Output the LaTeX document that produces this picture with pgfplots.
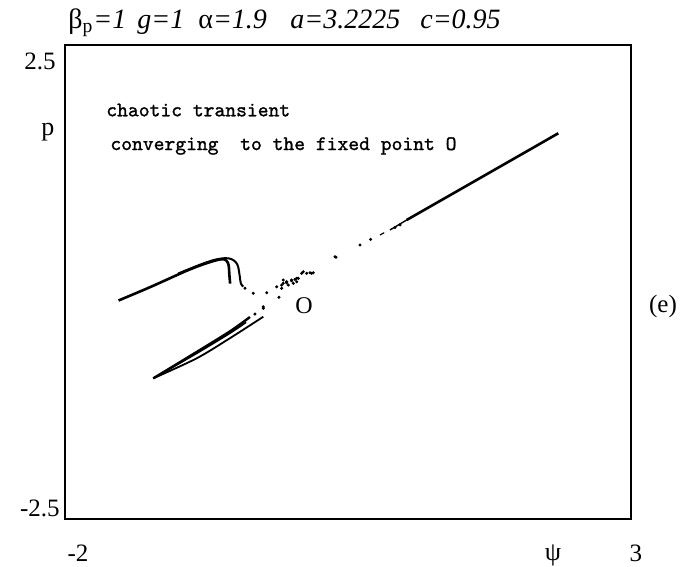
\documentclass[border=0pt]{standalone}
\usepackage{pgfplots}
\pgfplotsset{compat=1.18}
\usepackage{fontspec}
\setmainfont{Liberation Serif}
\newfontfamily\courfont[FakeBold=1.2]{Latin Modern Mono}
\begin{document}
\begin{tikzpicture}
\begin{axis}[scale only axis, width=283pt, height=237pt,
  xmin=-2, xmax=3, ymin=-2.5, ymax=2.5,
  xtick=\empty, ytick=\empty, clip=false,
  axis line style={line width=0.7pt}]
% invisible frame = full picture extent
\path (axis cs:-2.574,-3.006) rectangle (axis cs:3.442,2.975);
% upper-left curve (inner hook)
\addplot[black, line width=1.3pt, smooth, tension=0.5] coordinates {
(-1.527,-0.195) (-1.246,-0.053) (-0.950,0.106) (-0.801,0.177) (-0.683,0.223)
(-0.620,0.240) (-0.585,0.236) (-0.562,0.205) (-0.552,0.160) (-0.548,0.080) (-0.541,-0.017)};
% upper-left curve (outer hook)
\addplot[black, line width=1.0pt, smooth, tension=0.5] coordinates {
(-1.000,0.090) (-0.800,0.186) (-0.680,0.234) (-0.585,0.252) (-0.530,0.242)
(-0.490,0.208) (-0.470,0.160) (-0.456,0.060) (-0.446,-0.017) (-0.425,-0.048)};
% lower tongue strands
\addplot[black, line width=1.2pt, smooth] coordinates {
(-1.220,-1.016) (-0.837,-0.738) (-0.542,-0.520) (-0.366,-0.369)};
\addplot[black, line width=0.8pt, smooth] coordinates {
(-1.220,-1.016) (-0.840,-0.755) (-0.540,-0.538) (-0.400,-0.425)};
\addplot[black, line width=0.9pt, smooth] coordinates {
(-1.220,-1.016) (-0.837,-0.805) (-0.542,-0.592) (-0.248,-0.366)};
% right straight segment
\addplot[black, line width=1.3pt] coordinates {(1.018,0.654) (1.695,1.116) (2.358,1.569)};
\addplot[black, line width=0.7pt] coordinates {(0.871,0.549) (1.018,0.654)};
\addplot[black, line width=0.6pt] coordinates {(0.783,0.496) (0.820,0.520)};
% scattered transient points
\addplot[only marks, mark=*, mark size=0.55pt, black] coordinates {
(-0.410,-0.066) (-0.337,-0.119) (-0.218,-0.113) (-0.110,-0.161) (-0.248,-0.277)
(-0.322,-0.338) (-0.248,-0.262) (-0.130,-0.050) (-0.086,-0.066) (-0.072,-0.014)
(-0.042,0.003) (0.002,0.021) (0.047,0.039) (0.105,0.109) (0.193,0.098)
(0.385,0.267) (0.606,0.390) (0.394,0.261) (0.164,0.098) (0.135,0.092)
(-0.086,-0.032) (-0.042,-0.008) (0.002,0.013) (0.032,0.028) (0.061,0.039)
(0.091,0.092) (0.179,0.092) (-0.072,0.021) (-0.027,-0.032) (0.017,-0.014)
(0.047,0.003) (0.915,0.575) (0.960,0.603) (0.700,0.450)};
% texts
\node[anchor=west, inner sep=0pt, font=\courfont\fontsize{10.3}{12}\selectfont] at (axis cs:-1.638,1.814) {chaotic transient};
\node[anchor=west, inner sep=0pt, font=\courfont\fontsize{10.3}{12}\selectfont] at (axis cs:-1.602,1.435) {converging\ \ to the fixed point O};
\node[inner sep=0pt, font=\fontsize{12}{14}\selectfont] at (axis cs:0.111,-0.253) {O};
\node[inner sep=0pt, font=\fontsize{12.5}{14}\selectfont] at (axis cs:3.283,-0.253) {(e)};
\node[inner sep=0pt, font=\fontsize{13}{14}\selectfont] at (axis cs:-2.150,1.582) {p};
\node[inner sep=0pt, font=\fontsize{12.5}{14}\selectfont] at (axis cs:-2.221,2.331) {2.5};
\node[inner sep=0pt, font=\fontsize{12.5}{14}\selectfont] at (axis cs:-2.221,-2.384) {-2.5};
\node[inner sep=0pt, font=\fontsize{12.5}{14}\selectfont] at (axis cs:-1.885,-2.859) {-2};
\node[inner sep=0pt, font=\fontsize{12.5}{14}\selectfont] at (axis cs:3.044,-2.859) {3};
\node[inner sep=0pt, font=\fontsize{13}{14}\selectfont] at (axis cs:2.311,-2.880) {ψ};
% title pieces
\node[anchor=base west, inner sep=0pt, font=\fontsize{14}{16}\selectfont] at (axis cs:-1.973,2.679) {β\textsubscript{p}\textit{=1}};
\node[anchor=base west, inner sep=0pt, font=\fontsize{14}{16}\selectfont\itshape] at (axis cs:-1.364,2.679) {g=1};
\node[anchor=base west, inner sep=0pt, font=\fontsize{14}{16}\selectfont] at (axis cs:-0.825,2.679) {α\textit{=1.9}};
\node[anchor=base west, inner sep=0pt, font=\fontsize{14}{16}\selectfont\itshape] at (axis cs:-0.012,2.679) {a=3.2225};
\node[anchor=base west, inner sep=0pt, font=\fontsize{14}{16}\selectfont\itshape] at (axis cs:1.136,2.679) {c=0.95};
\end{axis}
\end{tikzpicture}
\end{document}
